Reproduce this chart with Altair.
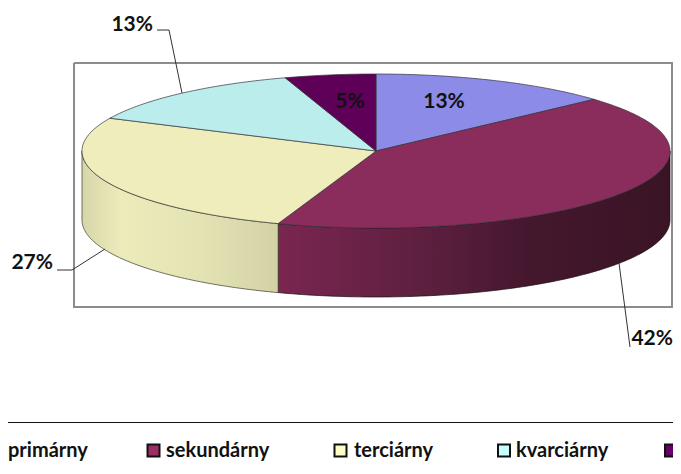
import math
import altair as alt
import pandas as pd

# Chart values
categories = ["primárny", "sekundárny", "terciárny", "kvarciárny", "piaty"]
shares = [13.3, 42.1, 26.6, 13.0, 5.0]
top_colors = ["#8c8ce8", "#8b2d5c", "#eeedbb", "#bbeded", "#5e0058"]

# Pie geometry, in picture pixels
CX, CY, RX, RY, DEPTH = 376, 151, 294, 77, 69
FONT = "Lato"
TEXT = "#111111"

# Frame and separator
frame_x = [74, 672, 672, 74, 74]
frame_y = [63, 63, 307, 307, 63]
sep_x = [8, 673]
sep_y = [422.5, 422.5]

# Value labels
inner_labels = [
    dict(idx=0, x=444, y=102),
    dict(idx=4, x=350, y=102),
]
outer_labels = [
    dict(idx=1, x=673, y=339, align="right"),
    dict(idx=2, x=53, y=263, align="right"),
    dict(idx=3, x=153, y=24.5, align="right"),
]
leaders = [
    ([630, 619], [347, 263]),
    ([57, 72, 105], [270, 270, 249]),
    ([157, 169, 182], [30, 30, 93]),
]

# Legend
legend_text = ["primárny", "sekundárny", "terciárny", "kvarciárny"]
legend_text_x = [8, 166, 354, 516]
legend_y = 450.5
swatch_x = [153.5, 340.5, 504, 671]
swatch_fill = ["#9b2f64", "#fdfdc8", "#c8fdfd", "#660066"]

X = alt.X("x:Q", scale=alt.Scale(domain=[8, 673], nice=False, zero=False), axis=None)
Y = alt.Y("y:Q", scale=alt.Scale(domain=[466, 8], nice=False, zero=False), axis=None)


def pct(v):
    return f"{int(v + 0.5)}%"


def pt(a, dy=0):
    r = math.radians(a)
    return CX + RX * math.sin(r), CY - RY * math.cos(r) + dy


def path(df, **kw):
    return alt.Chart(df).mark_line(**kw).encode(x=X, y=Y, order="i:Q")


def frame_of(xs, ys):
    return pd.DataFrame({"x": xs, "y": ys, "i": range(len(xs))})


def sweep(a0, a1, step=1.0):
    n = max(2, int(abs(a1 - a0) / step))
    return [a0 + (a1 - a0) * k / n for k in range(n + 1)]


def wedge(a0, a1):
    pts = [(CX, CY)] + [pt(a) for a in sweep(a0, a1)] + [(CX, CY)]
    return frame_of([p[0] for p in pts], [p[1] for p in pts])


def wall(a0, a1):
    arc = sweep(a0, a1)
    pts = [pt(a) for a in arc] + [pt(a, DEPTH) for a in reversed(arc)]
    pts.append(pts[0])
    return frame_of([p[0] for p in pts], [p[1] for p in pts])


def gradient(stops):
    return alt.LinearGradient(
        gradient="linear", x1=0, x2=1, y1=0, y2=0,
        stops=[alt.GradientStop(offset=o, color=c) for o, c in stops],
    )


# Slice boundaries
total = sum(shares)
angles = [0]
for v in shares:
    angles.append(angles[-1] + 360 * v / total)

layers = [path(frame_of(frame_x, frame_y), stroke="#8c8c8c", strokeWidth=2)]
layers.append(path(frame_of(sep_x, sep_y), stroke="#111111", strokeWidth=1))

# Side walls
layers.append(path(
    wall(90, angles[2]),
    fill=gradient([(0, "#7a2650"), (0.35, "#5f2040"), (0.65, "#44172d"), (1, "#3a1425")]),
    stroke="#1a0a12", strokeWidth=0.7,
))
layers.append(path(
    wall(angles[2], 270),
    fill=gradient([(0, "#d6d6aa"), (0.2, "#ecebba"), (0.6, "#e4e3b4"), (1, "#d2d2a6")]),
    stroke="#3a3a2a", strokeWidth=0.7,
))

# Top surface
for k in range(len(shares)):
    layers.append(path(
        wedge(angles[k], angles[k + 1]),
        fill=top_colors[k], stroke="#33333a", strokeWidth=0.7,
    ))

# Leader lines
for xs, ys in leaders:
    layers.append(path(frame_of(xs, ys), stroke="#333333", strokeWidth=1))

# Value labels
inner = pd.DataFrame({
    "x": [o["x"] for o in inner_labels],
    "y": [o["y"] for o in inner_labels],
    "t": [pct(shares[o["idx"]]) for o in inner_labels],
})
layers.append(alt.Chart(inner).mark_text(
    font=FONT, fontSize=21, fontWeight="bold", color=TEXT, align="center", baseline="middle"
).encode(x=X, y=Y, text="t:N"))

for o in outer_labels:
    d = pd.DataFrame({"x": [o["x"]], "y": [o["y"]], "t": [pct(shares[o["idx"]])]})
    layers.append(alt.Chart(d).mark_text(
        font=FONT, fontSize=21, fontWeight="bold", color=TEXT, align=o["align"], baseline="middle"
    ).encode(x=X, y=Y, text="t:N"))

# Legend
sw = pd.DataFrame({"x": swatch_x, "y": [legend_y] * len(swatch_x), "c": swatch_fill})
layers.append(alt.Chart(sw).mark_square(size=144, stroke="#111111", strokeWidth=2, opacity=1).encode(
    x=X, y=Y, fill=alt.Fill("c:N", scale=None)
))
lg = pd.DataFrame({"x": legend_text_x, "y": [legend_y] * len(legend_text), "t": legend_text})
layers.append(alt.Chart(lg).mark_text(
    font=FONT, fontSize=20, fontWeight="bold", color=TEXT, align="left", baseline="middle"
).encode(x=X, y=Y, text="t:N"))

chart = alt.layer(*layers).properties(
    width=665, height=458, padding=0, background="white",
    autosize=alt.AutoSizeParams(type="none"),
).configure_view(stroke=None)

chart.save("out.html", embed_options={"renderer": "svg", "actions": False})
